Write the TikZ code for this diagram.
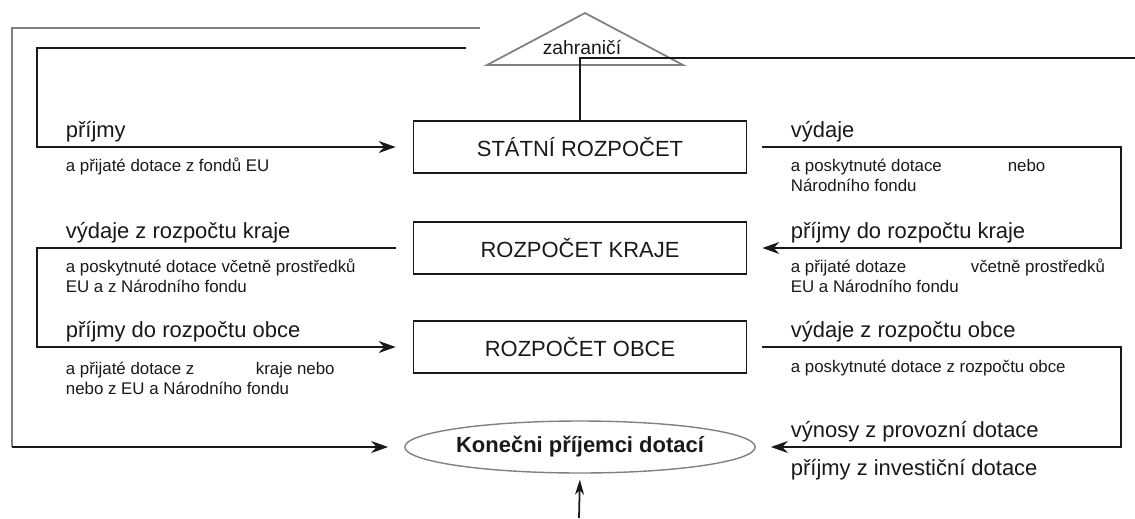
\documentclass[tikz,border=0pt]{standalone}
\usepackage{fontspec}
\setmainfont{Liberation Sans}
\usetikzlibrary{shapes.geometric,arrows.meta}
\definecolor{seda}{gray}{0.5}
\definecolor{cerna}{gray}{0.1}

\begin{document}
\begin{tikzpicture}[cerna,x=0.02cm,y=-0.02cm,line width=1pt,
	rozpocet/.style={draw,rectangle,minimum width=6.66cm,minimum height=1.04cm,inner sep=0pt,font=\fontsize{12.5}{15}\selectfont},
	popis/.style={anchor=base west,inner sep=0pt,font=\fontsize{12.5}{15}\selectfont},
	drobny/.style={anchor=base west,inner sep=0pt,align=left,font=\fontsize{9.6}{11.3}\selectfont},
	sipka/.style={-{Stealth[length=0.34cm,width=0.24cm,inset=0.11cm]}}]
			\useasboundingbox (0,0) rectangle (1135,518);
			\node[rozpocet] (stat) at (580,147) {STÁTNÍ ROZPOČET};
			\node[rozpocet] (kraj) at (580,248) {ROZPOČET KRAJE};
			\node[rozpocet] (obec) at (580,347) {ROZPOČET OBCE};
			\node[draw=seda,ellipse,line width=0.8pt,minimum width=6.66cm,minimum height=1.04cm,inner sep=0pt,font=\bfseries\fontsize{12.5}{15}\selectfont] (prijemci) at (580,447) {Konečni příjemci dotací};
			\draw[seda] (487,65) -- (585,13) -- (683,65) -- cycle;
			\node[anchor=base,inner sep=0pt,font=\fontsize{11}{13}\selectfont] (zahranici) at (582,54) {zahraničí};
			\coordinate (vnejsi) at (480,28);
			\coordinate (roh) at (12,447);
			\coordinate (vnitrni) at (466,48);
			\coordinate (vpravo) at (1135,58);
			\coordinate (zdola) at (579,518);
			\draw[seda,line width=1.6pt] (vnejsi) -- (12,28) -- (roh);
			\draw[sipka,shorten >=0.32cm] (roh) -- (prijemci.west);
			\draw[sipka,shorten >=0.34cm] (vnitrni) -- (37,48) |- (stat.west);
			\draw (stat.north) |- (vpravo);
			\draw[sipka,shorten <=0.3cm,shorten >=0.3cm] (stat.east) -- (1121,147) |- (kraj.east);
			\draw[sipka,shorten <=0.34cm,shorten >=0.34cm] (kraj.west) -- (37,248) |- (obec.west);
			\draw[sipka,shorten <=0.3cm,shorten >=0.3cm] (obec.east) -- (1121,347) |- (prijemci.east);
			\draw[-{Stealth[length=0.3cm,width=0.18cm,inset=0.09cm]},shorten >=0.12cm] (zdola) -- (prijemci.south);
			\node[popis] (prijmy) at (65,137) {příjmy};
			\node[drobny] (prijmydot) at (65,171) {a přijaté dotace z fondů EU};
			\node[popis] (vydaje) at (790,137) {výdaje};
			\node[drobny] (vydajedot) at (790,191) {\makebox[4.34cm][l]{a poskytnuté dotace}nebo\\Národního fondu};
			\node[popis] (vydajekraj) at (65,238) {výdaje z rozpočtu kraje};
			\node[drobny] (vydajekrajdot) at (65,292) {a poskytnuté dotace včetně prostředků\\EU a z Národního fondu};
			\node[popis] (prijmyobec) at (65,337) {příjmy do rozpočtu obce};
			\node[drobny] (prijmyobecdot) at (65,394) {\makebox[3.8cm][l]{a přijaté dotace z}kraje nebo\\nebo z EU a Národního fondu};
			\node[popis] (prijmykraj) at (790,238) {příjmy do rozpočtu kraje};
			\node[drobny] (prijmykrajdot) at (790,292) {\makebox[3.6cm][l]{a přijaté dotaze}včetně prostředků\\EU a Národního fondu};
			\node[popis] (vydajeobec) at (790,337) {výdaje z rozpočtu obce};
			\node[drobny] (vydajeobecdot) at (790,372) {a poskytnuté dotace z rozpočtu obce};
			\node[popis] (vynosy) at (790,437) {výnosy z provozní dotace};
			\node[popis] (investice) at (790,475) {příjmy z investiční dotace};
		\end{tikzpicture}
\end{document}
